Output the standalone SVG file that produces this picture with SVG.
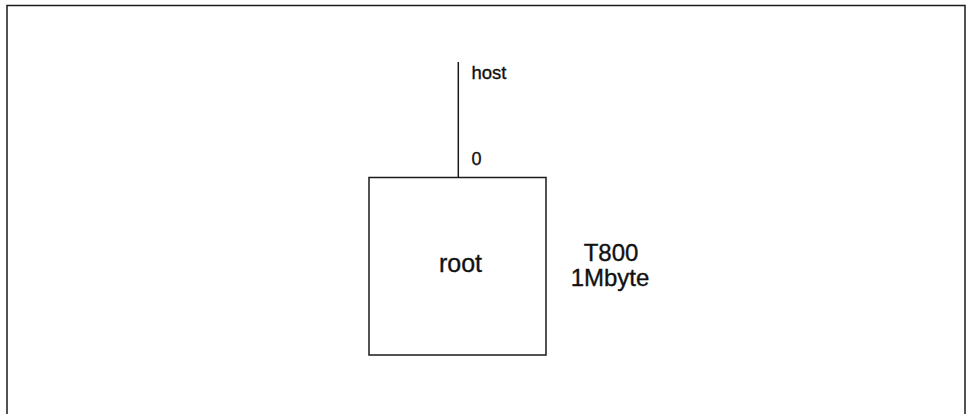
<svg xmlns="http://www.w3.org/2000/svg" width="966" height="414" viewBox="0 0 966 414">
<style>
.ln{fill:none;stroke:#1a1a1a;stroke-width:1.5}
.t{font-family:"Liberation Sans",Arial,sans-serif;fill:#111;stroke:#111;stroke-width:0.35}
.c{text-anchor:middle}
</style>
<rect width="966" height="414" fill="#fff"/>
<path class="ln" d="M7,414 V5.5 H965 V414"/>
<g id="connectors">
<line class="ln" x1="458.3" y1="62" x2="458.3" y2="177.5"/>
<text class="t" x="471.5" y="78.5" font-size="18.5">host</text>
<text class="t" x="471.5" y="165" font-size="18">0</text>
</g>
<g id="root">
<rect class="ln" x="369" y="177.5" width="177" height="177.5"/>
<text class="t c" x="460.5" y="272" font-size="25">root</text>
</g>
<g id="label">
<text class="t c" x="611" y="261" font-size="24">T800</text>
<text class="t c" x="610" y="286" font-size="24">1Mbyte</text>
</g>
</svg>
